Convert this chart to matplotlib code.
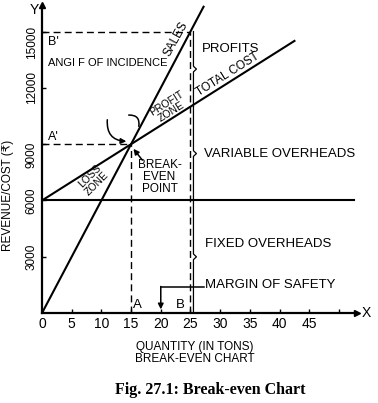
import numpy as np
import matplotlib.pyplot as plt
import matplotlib.transforms as mtrans

# break-even chart data
fixed_cost = 6000
price_per_ton = 600
var_cost_per_ton = 200
bep_qty = 15
bep_value = 9000
actual_qty = 25
actual_sales = 15000
sales_end_qty = 27.2
cost_end_qty = 42.5
fixed_end_qty = 52.5
xticks = [0, 5, 10, 15, 20, 25, 30, 35, 40, 45, 50]
xtick_labels = ["0", "5", "10", "15", "20", "25", "30", "35", "40", "45", ""]
yticks = [3000, 6000, 9000, 12000, 15000]
margin_y = 1400

plt.rcParams['font.family'] = ['Liberation Sans', 'DejaVu Sans']

fig = plt.figure(figsize=(3.78, 4.03), dpi=100)
ax = fig.add_axes([0.111, 0.223, 0.833, 0.764])
ax.set_xlim(0, 53)
ax.set_ylim(0, 16400)

for s in ['top', 'right']:
    ax.spines[s].set_visible(False)
for s in ['left', 'bottom']:
    ax.spines[s].set_linewidth(1.6)

# axis arrows
ax.plot(1, 0, ">k", transform=ax.transAxes, clip_on=False, ms=4)
ax.plot(0, 1, "^k", transform=ax.transAxes, clip_on=False, ms=4)
ax.text(1.015, 0, "X", transform=ax.transAxes, va='center', ha='left', fontsize=10)
ax.text(-0.025, 0.985, "Y", transform=ax.transAxes, va='center', ha='center', fontsize=10)

ax.set_xticks(xticks)
ax.set_xticklabels(xtick_labels, fontsize=10)
ax.set_yticks(yticks)
ax.set_yticklabels([str(v) for v in yticks], fontsize=8.5, rotation=90, va='center')
ax.tick_params(direction='in', length=3, width=1, pad=3)
# in the original the 9000 and 15000 labels sit a little below their ticks
for lab in ax.get_yticklabels():
    if lab.get_text() in ("9000", "15000"):
        lab.set_transform(lab.get_transform() +
                          mtrans.ScaledTranslation(0, -8 / 72, fig.dpi_scale_trans))

lw = 1.5
# sales line
q = np.array([0, sales_end_qty])
ax.plot(q, price_per_ton * q, color='black', lw=lw)
# total cost line
q = np.array([0, cost_end_qty])
ax.plot(q, fixed_cost + var_cost_per_ton * q, color='black', lw=lw)
# fixed cost line
ax.plot([0, fixed_end_qty], [fixed_cost, fixed_cost], color='black', lw=lw)

# dashed guides
ax.plot([0, bep_qty], [bep_value, bep_value], 'k--', lw=1, dashes=(5, 3))
ax.plot([bep_qty, bep_qty], [0, bep_value], 'k--', lw=1, dashes=(5, 3))
ax.plot([0, actual_qty], [actual_sales, actual_sales], 'k--', lw=1, dashes=(5, 3))
ax.plot([actual_qty, actual_qty], [0, actual_sales], 'k--', lw=1, dashes=(5, 3))

# braces right of the actual output line
total_cost_at_actual = fixed_cost + var_cost_per_ton * actual_qty
brace_x = 25.5
for lo, hi in [(0, fixed_cost), (fixed_cost, total_cost_at_actual),
               (total_cost_at_actual, actual_sales)]:
    mid = (lo + hi) / 2
    ax.plot([brace_x, brace_x, brace_x + 0.5, brace_x, brace_x],
            [lo, mid - 150, mid, mid + 150, hi], color='black', lw=0.9)

# margin of safety bracket
ax.plot([20, 27.2], [margin_y, margin_y], color='black', lw=1.1)
ax.annotate("", xy=(20, 200), xytext=(20, margin_y + 20),
            arrowprops=dict(arrowstyle='-|>', color='black', lw=1.1,
                            mutation_scale=8, shrinkA=0, shrinkB=0))

# break-even arrow
ax.annotate("", xy=(15.4, 8750), xytext=(16.9, 8150),
            arrowprops=dict(arrowstyle='-|>', color='black', lw=1.1,
                            mutation_scale=8, shrinkA=0, shrinkB=0))
# angle of incidence arcs
ax.annotate("", xy=(14.2, 9150), xytext=(11.0, 10300),
            arrowprops=dict(arrowstyle='-|>', color='black', lw=1.1,
                            mutation_scale=8, shrinkA=0, shrinkB=0,
                            connectionstyle="arc3,rad=0.5"))
ax.annotate("", xy=(16.3, 9950), xytext=(14.6, 10550),
            arrowprops=dict(arrowstyle='-', color='black', lw=1.1,
                            shrinkA=0, shrinkB=0,
                            connectionstyle="arc3,rad=-0.6"))

fs = 9.5
ax.text(1.0, 14450, "B'", fontsize=9, ha='left', va='center')
ax.text(1.0, 9400, "A'", fontsize=9, ha='left', va='center')
ax.text(15.4, 450, "A", fontsize=9.5, ha='left', va='center')
ax.text(22.6, 450, "B", fontsize=9.5, ha='left', va='center')
ax.text(11.0, 13300, "ANGI F OF INCIDENCE", fontsize=8, ha='center', va='center')
ax.text(22.5, 14600, "SALES", fontsize=8.5, ha='center', va='center', rotation=61)
ax.text(31.3, 12700, "TOTAL COST", fontsize=8.5, ha='center', va='center', rotation=32)
ax.text(21.4, 10950, "PROFIT\nZONE", fontsize=7.5, ha='center', va='center',
        rotation=32, linespacing=1.0)
ax.text(8.6, 7100, "LOSS\nZONE", fontsize=7.5, ha='center', va='center',
        rotation=45, linespacing=1.0)
ax.text(19.8, 7250, "BREAK-\nEVEN\nPOINT", fontsize=8.5, ha='center', va='center',
        linespacing=1.05)
ax.text(26.9, 14050, "PROFITS", fontsize=fs, ha='left', va='center')
ax.text(27.3, 8450, "VARIABLE OVERHEADS", fontsize=fs, ha='left', va='center')
ax.text(27.5, 3700, "FIXED OVERHEADS", fontsize=fs, ha='left', va='center')
ax.text(27.5, 1480, "MARGIN OF SAFETY", fontsize=fs, ha='left', va='center')

ax.set_ylabel("REVENUE/COST (\u20b9)", fontsize=8.5,
              family=['Liberation Sans', 'DejaVu Sans'])
ax.yaxis.set_label_coords(-0.09, 0.383)

fig.text(0.516, 0.124, "QUANTITY (IN TONS)\nBREAK-EVEN CHART", fontsize=8.5,
         ha='center', va='center', linespacing=1.0)
fig.text(0.556, 0.032, "Fig. 27.1: Break-even Chart", fontsize=11.5, ha='center',
         va='center', family='Liberation Serif', weight='bold')

fig.savefig("out.png", dpi=100)
